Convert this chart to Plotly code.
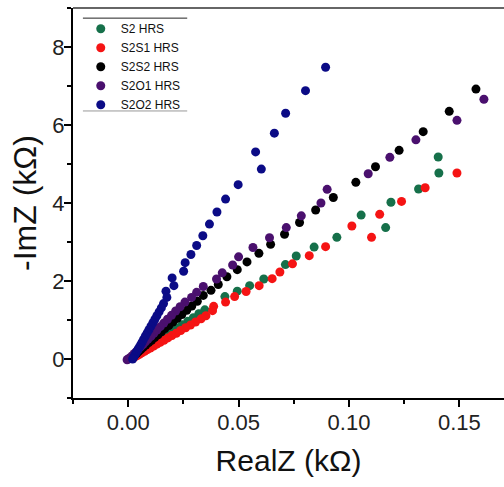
import plotly.graph_objects as go

# Nyquist data (RealZ, -ImZ) in kOhm for each sample in the high-resistance state
s2_re = [0.1404, 0.1407, 0.1315, 0.1190, 0.1166, 0.1055, 0.0945, 0.0842, 0.0761, 0.0712,
         0.0614, 0.0550, 0.0494, 0.0438, 0.0347, 0.0320, 0.0295, 0.0270, 0.0245, 0.0222,
         0.0200, 0.0180, 0.0160, 0.0142, 0.0125, 0.0108, 0.0093, 0.0078, 0.0064, 0.0050,
         0.0038, 0.0027, 0.0018, 0.0012]
s2_im = [5.18, 4.77, 4.36, 4.02, 3.37, 3.69, 3.12, 2.87, 2.64, 2.42,
         2.05, 1.88, 1.74, 1.60, 1.26, 1.16, 1.06, 0.97, 0.88, 0.80,
         0.72, 0.64, 0.57, 0.50, 0.44, 0.38, 0.32, 0.26, 0.21, 0.16,
         0.11, 0.07, 0.03, 0.01]

s2s1_re = [0.1489, 0.1345, 0.1238, 0.1139, 0.1102, 0.1013, 0.0894, 0.0820, 0.0744, 0.0687,
           0.0652, 0.0593, 0.0534, 0.0482, 0.0441, 0.0387, 0.0382, 0.0352, 0.0330, 0.0305,
           0.0282, 0.0260, 0.0238, 0.0218, 0.0198, 0.0180, 0.0162, 0.0145, 0.0130, 0.0115,
           0.0100, 0.0087, 0.0074, 0.0062, 0.0051, 0.0041, 0.0032, 0.0024, 0.0018]
s2s1_im = [4.77, 4.39, 4.04, 3.71, 3.12, 3.41, 2.88, 2.65, 2.44, 2.23,
           2.06, 1.88, 1.73, 1.60, 1.46, 1.35, 1.24, 1.11, 1.03, 0.95,
           0.87, 0.80, 0.73, 0.66, 0.60, 0.54, 0.48, 0.43, 0.38, 0.33,
           0.28, 0.24, 0.20, 0.16, 0.12, 0.09, 0.06, 0.03, 0.01]

s2s2_re = [0.1575, 0.1454, 0.1336, 0.1227, 0.1120, 0.1031, 0.0929, 0.0849, 0.0776, 0.0708,
           0.0645, 0.0592, 0.0538, 0.0494, 0.0447, 0.0408, 0.0375, 0.0340, 0.0313, 0.0288,
           0.0265, 0.0243, 0.0222, 0.0202, 0.0184, 0.0166, 0.0150, 0.0135, 0.0120, 0.0106,
           0.0093, 0.0080, 0.0068, 0.0057, 0.0047, 0.0038, 0.0030, 0.0023, 0.0017]
s2s2_im = [6.92, 6.35, 5.83, 5.35, 4.93, 4.53, 4.14, 3.82, 3.50, 3.20,
           2.94, 2.71, 2.49, 2.29, 2.11, 1.91, 1.76, 1.63, 1.48, 1.36,
           1.25, 1.14, 1.04, 0.95, 0.86, 0.78, 0.70, 0.62, 0.55, 0.48,
           0.42, 0.36, 0.30, 0.24, 0.19, 0.14, 0.10, 0.06, 0.03]

s2o1_re = [0.1611, 0.1489, 0.1303, 0.1185, 0.1087, 0.0901, 0.0873, 0.0784, 0.0716, 0.0640,
           0.0565, 0.0500, 0.0473, 0.0426, 0.0400, 0.0340, 0.0310, 0.0287, 0.0257, 0.0235,
           0.0215, 0.0196, 0.0178, 0.0161, 0.0145, 0.0130, 0.0116, 0.0103, 0.0090, 0.0078,
           0.0067, 0.0056, 0.0046, 0.0037, 0.0028, 0.0020, 0.0013, 0.0006, 0.0000, -0.0005]
s2o1_im = [6.66, 6.12, 5.62, 5.17, 4.75, 4.35, 4.00, 3.67, 3.37, 3.11,
           2.86, 2.62, 2.41, 2.21, 2.05, 1.86, 1.71, 1.58, 1.46, 1.34,
           1.23, 1.12, 1.02, 0.92, 0.83, 0.74, 0.66, 0.58, 0.51, 0.44,
           0.37, 0.31, 0.25, 0.19, 0.14, 0.09, 0.05, 0.02, 0.00, -0.02]

s2o2_re = [0.0894, 0.0803, 0.0713, 0.0662, 0.0577, 0.0603, 0.0498, 0.0441, 0.0402, 0.0368,
           0.0338, 0.0310, 0.0284, 0.0258, 0.0251, 0.0199, 0.0207, 0.0171, 0.0175, 0.0160,
           0.0150, 0.0140, 0.0130, 0.0121, 0.0112, 0.0103, 0.0094, 0.0086, 0.0078, 0.0070,
           0.0063, 0.0056, 0.0049, 0.0043, 0.0037, 0.0032, 0.0027, 0.0023, 0.0020]
s2o2_im = [7.48, 6.88, 6.30, 5.79, 5.31, 4.87, 4.47, 4.10, 3.77, 3.46,
           3.16, 2.91, 2.68, 2.47, 2.25, 2.08, 1.88, 1.74, 1.58, 1.42,
           1.31, 1.21, 1.11, 1.02, 0.93, 0.84, 0.75, 0.67, 0.59, 0.51,
           0.43, 0.36, 0.29, 0.23, 0.17, 0.12, 0.07, 0.03, 0.00]

series = [
    ("S2 HRS", s2_re, s2_im, "#16704A"),
    ("S2S1 HRS", s2s1_re, s2s1_im, "#F51414"),
    ("S2S2 HRS", s2s2_re, s2s2_im, "#000000"),
    ("S2O1 HRS", s2o1_re, s2o1_im, "#4A106E"),
    ("S2O2 HRS", s2o2_re, s2o2_im, "#0B0B86"),
]

FONT = "Arial, Liberation Sans, sans-serif"

fig = go.Figure()
for name, xs, ys, color in series:
    fig.add_trace(go.Scatter(
        x=xs, y=ys, mode="markers", name=name,
        marker=dict(size=9, color=color, line=dict(width=0)),
    ))

axis_common = dict(
    showgrid=False, zeroline=False,
    showline=True, linecolor="black", linewidth=2,
    ticks="outside", ticklen=7, tickwidth=1.5, tickcolor="black",
    tickfont=dict(family=FONT, size=22, color="#222"),
    minor=dict(ticks="outside", ticklen=4, tickwidth=1.5, tickcolor="black"),
)

fig.update_xaxes(
    range=[-0.025, 0.1702], dtick=0.05, tickformat=".2f",
    minor_dtick=0.025, minor_tick0=-0.025,
    ticklabelstandoff=-3,
    title=dict(text="RealZ (kΩ)", font=dict(family=FONT, size=30, color="#111"), standoff=16),
    **axis_common,
)
fig.update_yaxes(
    range=[-1, 9], dtick=2, minor_dtick=1,
    ticklabelstandoff=-5,
    title=dict(text="-ImZ (kΩ)", font=dict(family=FONT, size=32, color="#111"), standoff=6),
    **axis_common,
)

# top frame line and the rules above/below the legend
fig.add_shape(type="line", xref="paper", yref="paper", x0=0, x1=1, y0=1, y1=1,
              line=dict(color="#333", width=1.5))
fig.add_shape(type="line", xref="paper", yref="paper", x0=0.023, x1=0.265, y0=0.974, y1=0.974,
              line=dict(color="#222", width=1))
fig.add_shape(type="line", xref="paper", yref="paper", x0=0.023, x1=0.265, y0=0.736, y1=0.736,
              line=dict(color="#999", width=1))

fig.update_layout(
    width=504, height=487,
    margin=dict(l=73, r=0, t=8, b=89),
    plot_bgcolor="white", paper_bgcolor="white",
    showlegend=True,
    legend=dict(
        x=0.018, y=0.984, xanchor="left", yanchor="top",
        bgcolor="rgba(0,0,0,0)", borderwidth=0,
        font=dict(family=FONT, size=12, color="#111"),
        itemsizing="trace", tracegroupgap=0,
    ),
)

fig.write_html("out.html")
